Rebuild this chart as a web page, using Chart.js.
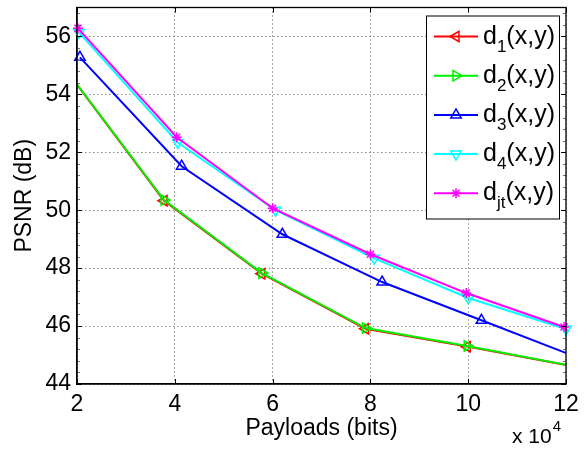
<!DOCTYPE html>
<html>
<head>
<meta charset="utf-8">
<script src="https://cdn.jsdelivr.net/npm/chart.js@4.4.1/dist/chart.umd.min.js"></script>
<style>
  html, body { margin: 0; padding: 0; background: #fff; }
</style>
</head>
<body>
<canvas id="grafico-psnr" width="587" height="455"></canvas>
<script>
// valores (x en unidades de 10^4 bits)
const payloadsD1 = [1.78, 3.78, 5.78, 7.9, 9.98, 12.15];
const psnrD1 = [54.83, 50.33, 47.81, 45.91, 45.29, 44.61];
const payloadsD2 = [1.78, 3.78, 5.78, 7.9, 9.98, 12.15];
const psnrD2 = [54.84, 50.35, 47.83, 45.93, 45.31, 44.62];
const payloadsD3 = [2.06, 4.14, 6.2, 8.24, 10.27, 12.32];
const psnrD3 = [55.28, 51.52, 49.17, 47.52, 46.2, 44.86];
const payloadsD4 = [2.04, 4.06, 6.06, 8.08, 10.0, 12.0];
const psnrD4 = [56.14, 52.34, 50.0, 48.34, 46.97, 45.9];
const payloadsDjt = [2.02, 4.04, 6.0, 8.0, 9.96, 11.96];
const psnrDjt = [56.28, 52.52, 50.07, 48.48, 47.14, 45.97];

const subindices = ["1", "2", "3", "4", "jt"];
const xTicks = [2, 4, 6, 8, 10, 12];
const yTicks = [44, 46, 48, 50, 52, 54, 56];
const xMin = 2, xMax = 12, yMin = 44, yMax = 57;

const FUENTE = "'Liberation Sans', Arial, Helvetica, sans-serif";

function armarPuntos(xs, ys) {
  return xs.map((x, i) => ({ x: x, y: ys[i] }));
}

const series = [
  { xs: payloadsD1, ys: psnrD1, color: "#ff0000", estilo: "triangle", rot: -90, radio: 6, clip: 0 },
  { xs: payloadsD2, ys: psnrD2, color: "#00f000", estilo: "triangle", rot: 90, radio: 6, clip: 0 },
  { xs: payloadsD3, ys: psnrD3, color: "#0000ff", estilo: "triangle", rot: 0, radio: 6, clip: { left: 8, top: 8, right: 0, bottom: 0 } },
  { xs: payloadsD4, ys: psnrD4, color: "#00ffff", estilo: "triangle", rot: 180, radio: 6, clip: 8 },
  { xs: payloadsDjt, ys: psnrDjt, color: "#ff00ff", estilo: "star", rot: 0, radio: 5, clip: 8 },
];

const datasets = series.map((s, i) => ({
  label: "d" + subindices[i] + "(x,y)",
  data: armarPuntos(s.xs, s.ys),
  borderColor: s.color,
  borderWidth: 2,
  pointStyle: s.estilo,
  pointRotation: s.rot,
  pointRadius: s.radio,
  pointBorderColor: s.color,
  pointBackgroundColor: "rgba(0,0,0,0)",
  pointBorderWidth: 1.5,
  tension: 0,
  clip: s.clip,
  order: series.length - i,
}));

// marco estilo matlab: caja, marcas internas, leyenda y exponente
const marcoMatlab = {
  id: "marcoMatlab",
  afterDatasetsDraw(chart) {
    const ctx = chart.ctx;
    const { left, right, top, bottom } = chart.chartArea;
    const sx = chart.scales.x, sy = chart.scales.y;
    ctx.save();
    ctx.strokeStyle = "#000";
    ctx.lineWidth = 1;

    // marcas mayores
    ctx.beginPath();
    xTicks.forEach((v) => {
      const px = Math.round(sx.getPixelForValue(v)) + 0.5;
      ctx.moveTo(px, bottom); ctx.lineTo(px, bottom - 5);
      ctx.moveTo(px, top); ctx.lineTo(px, top + 5);
    });
    yTicks.forEach((v) => {
      const py = Math.round(sy.getPixelForValue(v)) + 0.5;
      ctx.moveTo(left, py); ctx.lineTo(left + 5, py);
      ctx.moveTo(right, py); ctx.lineTo(right - 5, py);
    });
    ctx.stroke();

    // marcas menores en y
    ctx.strokeStyle = "#777";
    ctx.beginPath();
    for (let k = 1; k * 0.4 < yMax - yMin; k++) {
      if (k % 5 === 0) continue;
      const py = Math.round(sy.getPixelForValue(yMin + k * 0.4)) + 0.5;
      ctx.moveTo(left, py); ctx.lineTo(left + 3, py);
      ctx.moveTo(right, py); ctx.lineTo(right - 3, py);
    }
    ctx.stroke();

    // caja
    ctx.strokeStyle = "#000";
    ctx.lineWidth = 1.3;
    ctx.strokeRect(left, top, right - left, bottom - top);

    // leyenda
    const lx = right - 140, ly = top + 8, lw = 133, lh = 203;
    ctx.fillStyle = "#fff";
    ctx.fillRect(lx, ly, lw, lh);
    ctx.lineWidth = 1;
    ctx.strokeRect(lx + 0.5, ly + 0.5, lw, lh);
    datasets.forEach((ds, i) => {
      const fy = ly + 21 + i * 39.2;
      ctx.strokeStyle = ds.borderColor;
      ctx.lineWidth = 2;
      ctx.beginPath();
      ctx.moveTo(lx + 8, fy); ctx.lineTo(lx + 52, fy);
      ctx.stroke();
      ctx.fillStyle = "rgba(0,0,0,0)";
      ctx.lineWidth = ds.pointBorderWidth;
      Chart.helpers.drawPoint(ctx, {
        pointStyle: ds.pointStyle,
        rotation: ds.pointRotation,
        radius: ds.pointRadius,
        borderWidth: ds.pointBorderWidth,
      }, lx + 30, fy);

      ctx.fillStyle = "#000";
      ctx.textBaseline = "alphabetic";
      ctx.textAlign = "left";
      let tx = lx + 57;
      const base = fy + 7;
      ctx.font = "25px " + FUENTE;
      ctx.fillText("d", tx, base);
      tx += ctx.measureText("d").width;
      ctx.font = "17px " + FUENTE;
      ctx.fillText(subindices[i], tx, base + 8);
      tx += ctx.measureText(subindices[i]).width;
      ctx.font = "25px " + FUENTE;
      ctx.fillText("(x,y)", tx, base);
    });

    // exponente del eje x
    ctx.fillStyle = "#000";
    ctx.font = "21px " + FUENTE;
    ctx.fillText("x 10", right - 54, bottom + 59);
    const w10 = ctx.measureText("x 10").width;
    ctx.font = "15px " + FUENTE;
    ctx.fillText("4", right - 54 + w10 + 1, bottom + 47);
    ctx.restore();
  },
};

new Chart(document.getElementById("grafico-psnr"), {
  type: "line",
  data: { datasets: datasets },
  plugins: [marcoMatlab],
  options: {
    responsive: false,
    animation: false,
    devicePixelRatio: 1,
    layout: { padding: { top: 7, right: 21, left: 0, bottom: 0 } },
    plugins: { legend: { display: false }, tooltip: { enabled: false } },
    scales: {
      x: {
        type: "linear",
        min: xMin,
        max: xMax,
        afterBuildTicks: (eje) => { eje.ticks = xTicks.map((v) => ({ value: v })); },
        afterFit: (eje) => { eje.height = 71; eje.paddingLeft = 0; eje.paddingRight = 0; },
        grid: { color: "#555", lineWidth: 1, drawTicks: false },
        border: { display: true, color: "#000", width: 1.3, dash: [1, 3] },
        ticks: { color: "#000", font: { family: FUENTE, size: 23 }, padding: 7, maxRotation: 0 },
        title: {
          display: true,
          text: "Payloads (bits)",
          color: "#000",
          font: { family: FUENTE, size: 23 },
          padding: { top: 0, bottom: 13 },
        },
      },
      y: {
        type: "linear",
        min: yMin,
        max: yMax,
        afterBuildTicks: (eje) => { eje.ticks = yTicks.map((v) => ({ value: v })); },
        afterFit: (eje) => { eje.width = 77; eje.paddingTop = 0; eje.paddingBottom = 0; },
        grid: { color: "#555", lineWidth: 1, drawTicks: false },
        border: { display: true, color: "#000", width: 1.3, dash: [1, 3] },
        ticks: { color: "#000", font: { family: FUENTE, size: 23 }, padding: 6 },
        title: {
          display: true,
          text: "PSNR (dB)",
          color: "#000",
          font: { family: FUENTE, size: 23 },
          padding: { top: 11, bottom: 0 },
        },
      },
    },
  },
});
</script>
</body>
</html>
